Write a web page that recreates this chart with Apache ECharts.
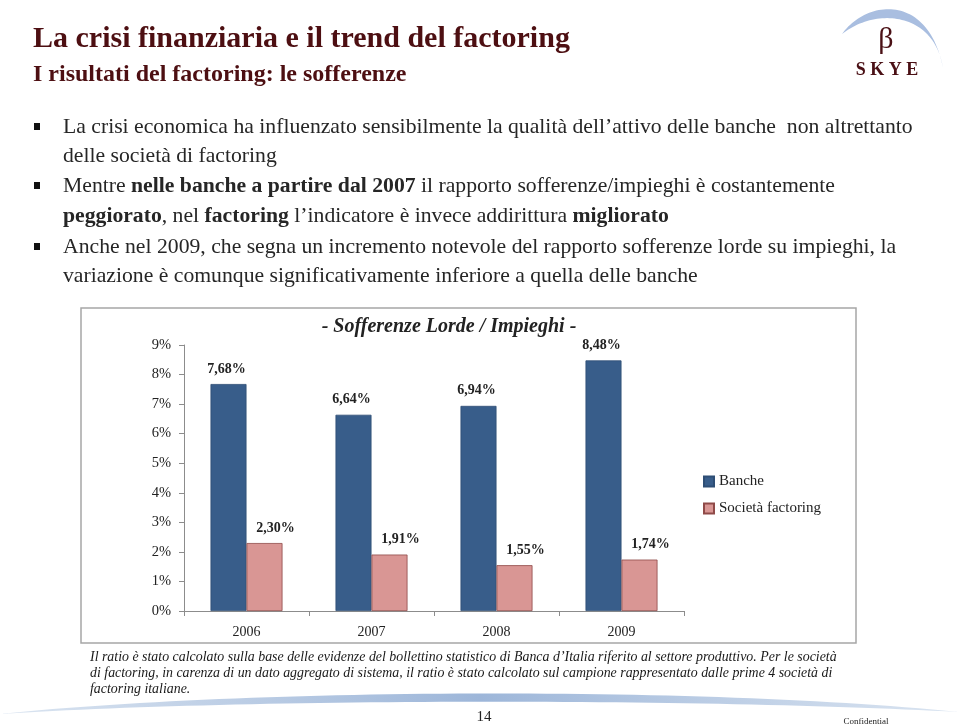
<!DOCTYPE html>
<html>
<head>
<meta charset="utf-8">
<script src="https://cdn.jsdelivr.net/npm/echarts@6/dist/echarts.min.js"></script>
<style>
html,body{margin:0;padding:0;background:#fff;}
#c{width:959px;height:727px;}
</style>
</head>
<body>
<div id="c"></div>
<script>
const categories = ['2006', '2007', '2008', '2009'];
const banche = [7.68, 6.64, 6.94, 8.48];
const factoring = [2.30, 1.91, 1.55, 1.74];
const seriesNames = ['Banche', 'Società factoring'];
const yMax = 9;
const yStep = 1;

const SERIF = '"Liberation Serif", "DejaVu Serif", serif';
const fmtPct = v => v.toFixed(2).replace('.', ',') + '%';

// cubic bezier sampler for decorative shapes
function bez(p0, p1, p2, p3, n) {
  const out = [];
  for (let i = 0; i <= n; i++) {
    const t = i / n, u = 1 - t;
    out.push([
      u*u*u*p0[0] + 3*u*u*t*p1[0] + 3*u*t*t*p2[0] + t*t*t*p3[0],
      u*u*u*p0[1] + 3*u*u*t*p1[1] + 3*u*t*t*p2[1] + t*t*t*p3[1]
    ]);
  }
  return out;
}

const chart = echarts.init(document.getElementById('c'), null, {renderer: 'canvas'});

const bullets = [
  {y: 127, t: '{n|La crisi economica ha influenzato sensibilmente la qualità dell\u2019attivo delle banche  non altrettanto}'},
  {y: 156, t: '{n|delle società di factoring}', nb: true},
  {y: 186, t: '{n|Mentre }{b|nelle banche a partire dal 2007}{n| il rapporto sofferenze/impieghi è costantemente}'},
  {y: 216, t: '{b|peggiorato}{n|, nel }{b|factoring}{n| l\u2019indicatore è invece addirittura }{b|migliorato}', nb: true},
  {y: 247, t: '{n|Anche nel 2009, che segna un incremento notevole del rapporto sofferenze lorde su impieghi, la}'},
  {y: 276, t: '{n|variazione è comunque significativamente inferiore a quella delle banche}', nb: true}
];

const graphics = [];
graphics.push({type: 'rect', z: -1, shape: {x: 81, y: 308, width: 775, height: 335},
  style: {fill: '#fff', stroke: '#a6a6a6', lineWidth: 1.5}});

bullets.forEach(b => {
  if (!b.nb) {
    graphics.push({type: 'rect', shape: {x: 34, y: b.y - 4, width: 6, height: 7}, style: {fill: '#111'}});
  }
  graphics.push({type: 'text', x: 63, y: b.y, style: {
    text: b.t, verticalAlign: 'middle', textVerticalAlign: 'middle',
    rich: {
      n: {fontFamily: SERIF, fontSize: 21.7, fill: '#262626', color: '#262626'},
      b: {fontFamily: SERIF, fontSize: 21.7, fontWeight: 'bold', fill: '#262626', color: '#262626'}
    }
  }});
});

const notes = [
  'Il ratio è stato calcolato sulla base delle evidenze del bollettino statistico di Banca d\u2019Italia riferito al settore produttivo. Per le società',
  'di factoring, in carenza di un dato aggregato di sistema, il ratio è stato calcolato sul campione rappresentato dalle prime 4 società di',
  'factoring italiane.'
];
// swoosh
const swTop = bez([0, 714], [250, 688], [700, 686], [959, 712], 60);
const swBot = bez([959, 712], [700, 698], [250, 698], [0, 714], 60);
graphics.push({type: 'polygon', z: 0, shape: {points: swTop.concat(swBot)},
  style: {fill: {type: 'linear', x: 0, y: 0, x2: 1, y2: 0, colorStops: [
    {offset: 0, color: '#dbe5f1'}, {offset: 0.5, color: '#9db6d9'}, {offset: 1, color: '#dbe5f1'}]}}});
notes.forEach((t, i) => {
  graphics.push({type: 'text', z: 2, x: 90, y: 657 + i * 16, style: {
    text: t, font: 'italic 13.9px ' + SERIF, fill: '#1a1a1a', verticalAlign: 'middle', textVerticalAlign: 'middle'}});
});
graphics.push({type: 'text', x: 484, y: 717, style: {text: '14', font: '15px ' + SERIF, fill: '#222',
  align: 'center', verticalAlign: 'middle', textAlign: 'center', textVerticalAlign: 'middle'}});
graphics.push({type: 'text', x: 866, y: 722, style: {text: 'Confidential', font: '9px ' + SERIF, fill: '#222',
  align: 'center', verticalAlign: 'middle', textAlign: 'center', textVerticalAlign: 'middle'}});

// logo crescent
const lgOut = bez([842, 34], [866, 0], [928, -8], [943, 68], 50);
const lgIn = bez([943, 68], [934, 12], [876, 7], [842, 34], 50);
graphics.push({type: 'polygon', shape: {points: lgOut.concat(lgIn)}, style: {fill: '#a9bee0'}});
graphics.push({type: 'text', x: 886, y: 40, style: {text: 'β', font: '30px ' + SERIF, fill: '#4a1015',
  align: 'center', verticalAlign: 'middle', textAlign: 'center', textVerticalAlign: 'middle'}});
graphics.push({type: 'text', x: 887, y: 70, style: {text: 'S K Y E', font: 'bold 18px ' + SERIF, fill: '#4a1015',
  align: 'center', verticalAlign: 'middle', textAlign: 'center', textVerticalAlign: 'middle'}});

const option = {
  animation: false,
  backgroundColor: '#fff',
  title: [
    {text: 'La crisi finanziaria e il trend del factoring', left: 28, top: 19,
      textStyle: {fontFamily: SERIF, fontSize: 30, fontWeight: 'bold', color: '#4d0f12'}},
    {text: 'I risultati del factoring: le sofferenze', left: 28, top: 58,
      textStyle: {fontFamily: SERIF, fontSize: 24, fontWeight: 'bold', color: '#4d0f12'}},
    {text: '- Sofferenze Lorde / Impieghi -', left: 444, top: 312, textAlign: 'center',
      textStyle: {fontFamily: SERIF, fontSize: 20, fontStyle: 'italic', fontWeight: 'bold', color: '#222'}}
  ],
  legend: {
    orient: 'vertical', left: 698, top: 469, itemWidth: 10, itemHeight: 10, itemGap: 12,
    icon: 'rect', data: seriesNames,
    textStyle: {fontFamily: SERIF, fontSize: 15, color: '#222'}
  },
  grid: {left: 184, right: 275, top: 345, bottom: 116, containLabel: false},
  xAxis: {
    type: 'category', data: categories,
    axisLine: {lineStyle: {color: '#8c8c8c'}},
    axisTick: {show: true, length: 5, lineStyle: {color: '#8c8c8c'}},
    axisLabel: {fontFamily: SERIF, fontSize: 14, color: '#222', margin: 14}
  },
  yAxis: {
    type: 'value', min: 0, max: yMax, interval: yStep,
    axisLine: {show: true, lineStyle: {color: '#8c8c8c'}},
    axisTick: {show: true, length: 5, lineStyle: {color: '#8c8c8c'}},
    splitLine: {show: false},
    axisLabel: {fontFamily: SERIF, fontSize: 14.5, color: '#222', margin: 13, formatter: '{value}%'}
  },
  series: [
    {name: seriesNames[0], type: 'bar', data: banche, barWidth: 36, barGap: '0%',
      itemStyle: {color: '#385d8a', borderColor: '#2e4e75', borderWidth: 0.8},
      label: {show: true, position: 'top', distance: 8, offset: [-2, 0], formatter: p => fmtPct(p.value),
        fontFamily: SERIF, fontSize: 14, fontWeight: 'bold', color: '#222'}},
    {name: seriesNames[1], type: 'bar', data: factoring, barWidth: 36,
      itemStyle: {color: '#d99694', borderColor: '#8f4a48', borderWidth: 0.8},
      label: {show: true, position: 'top', distance: 8, offset: [11, 0], formatter: p => fmtPct(p.value),
        fontFamily: SERIF, fontSize: 14, fontWeight: 'bold', color: '#222'}}
  ],
  graphic: graphics
};
chart.setOption(option);
</script>
</body>
</html>
